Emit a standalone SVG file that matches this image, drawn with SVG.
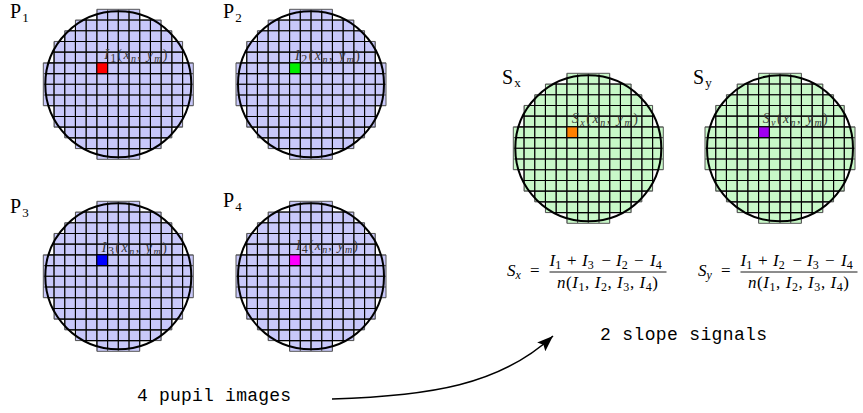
<svg xmlns="http://www.w3.org/2000/svg" xmlns:xlink="http://www.w3.org/1999/xlink" width="863" height="413" viewBox="0 0 863 413">
<style>
.blue{fill:#c8c8fa}
.green{fill:#c8f8c8}
.stair{stroke:#555;stroke-width:1}
.ring{fill:none;stroke:#000;stroke-width:2}
.px{stroke:#000;stroke-width:1}
.plab{font-family:'Liberation Serif','Times New Roman',Times,serif;font-size:20px;fill:#000}
.psub{font-size:13px}
.lbl{font-family:'Liberation Serif','Times New Roman',Times,serif;font-size:14px;fill:#333}
.m{font-family:'Liberation Serif','Times New Roman',Times,serif;font-size:17px;fill:#000}
.i{font-style:italic}
.s{font-size:12px}
.mono{font-family:'Liberation Mono','Courier New',monospace;font-size:18px;fill:#000}
.bar{stroke:#000;stroke-width:0.9}
.conn{fill:none;stroke:#000;stroke-width:1.5}
</style>
<defs>
<clipPath id="stairClip"><path d="M53.57 0H96.43V10.71H117.86V21.43H128.57V32.14H139.29V53.57H150V96.43H139.29V117.86H128.57V128.57H117.86V139.29H96.43V150H53.57V139.29H32.14V128.57H21.43V117.86H10.71V96.43H0V53.57H10.71V32.14H21.43V21.43H32.14V10.71H53.57Z"/></clipPath>
<clipPath id="circClip"><circle cx="75" cy="75" r="73"/></clipPath>
<path id="lines" fill="none" stroke-width="1.1" d="M10.71 0V150M21.43 0V150M32.14 0V150M42.86 0V150M53.57 0V150M64.29 0V150M75 0V150M85.71 0V150M96.43 0V150M107.14 0V150M117.86 0V150M128.57 0V150M139.29 0V150M0 10.71H150M0 21.43H150M0 32.14H150M0 42.86H150M0 53.57H150M0 64.29H150M0 75H150M0 85.71H150M0 96.43H150M0 107.14H150M0 117.86H150M0 128.57H150M0 139.29H150"/>
<g id="grid">
<path class="stair" d="M53.57 0H96.43V10.71H117.86V21.43H128.57V32.14H139.29V53.57H150V96.43H139.29V117.86H128.57V128.57H117.86V139.29H96.43V150H53.57V139.29H32.14V128.57H21.43V117.86H10.71V96.43H0V53.57H10.71V32.14H21.43V21.43H32.14V10.71H53.57Z"/>
<use xlink:href="#lines" href="#lines" clip-path="url(#stairClip)" stroke="#555"/>
<use xlink:href="#lines" href="#lines" clip-path="url(#circClip)" stroke="#000"/>
</g>
<marker id="head" markerUnits="userSpaceOnUse" markerWidth="20" markerHeight="14" refX="16" refY="6" orient="auto">
<path d="M0 0L16 6L0 12L3 6Z" fill="#000"/>
</marker>
</defs>

<g id="p1">
<g transform="translate(43.3,9.3)">
<use xlink:href="#grid" href="#grid" class="blue"/>
<rect class="px" x="53.57" y="53.57" width="10.71" height="10.71" fill="#ff0000"/>
<circle class="ring" cx="75" cy="75" r="73"/>
<text class="lbl" x="61" y="50" textLength="63"><tspan class="i">I</tspan><tspan class="s" font-size="10" dy="3">1</tspan><tspan dy="-3">(</tspan><tspan class="i">x</tspan><tspan class="i" font-size="10" dy="3">n</tspan><tspan dy="-3">, </tspan><tspan class="i">y</tspan><tspan class="i" font-size="10" dy="3">m</tspan><tspan dy="-3">)</tspan></text>
</g>
<text class="plab" x="10" y="17.5">P<tspan class="psub" dx="1" dy="4">1</tspan></text>
</g>

<g id="p2">
<g transform="translate(236,9.3)">
<use xlink:href="#grid" href="#grid" class="blue"/>
<rect class="px" x="53.57" y="53.57" width="10.71" height="10.71" fill="#00ee00"/>
<circle class="ring" cx="75" cy="75" r="73"/>
<text class="lbl" x="59" y="50.5" textLength="65"><tspan class="i">I</tspan><tspan class="s" font-size="10" dy="3">2</tspan><tspan dy="-3">(</tspan><tspan class="i">x</tspan><tspan class="i" font-size="10" dy="3">n</tspan><tspan dy="-3">, </tspan><tspan class="i">y</tspan><tspan class="i" font-size="10" dy="3">m</tspan><tspan dy="-3">)</tspan></text>
</g>
<text class="plab" x="223" y="18">P<tspan class="psub" dx="1" dy="4">2</tspan></text>
</g>

<g id="p3">
<g transform="translate(43.3,201.3)">
<use xlink:href="#grid" href="#grid" class="blue"/>
<rect class="px" x="53.57" y="53.57" width="10.71" height="10.71" fill="#0000ff"/>
<circle class="ring" cx="75" cy="75" r="73"/>
<text class="lbl" x="58.5" y="50.3" textLength="65"><tspan class="i">I</tspan><tspan class="s" font-size="10" dy="3">3</tspan><tspan dy="-3">(</tspan><tspan class="i">x</tspan><tspan class="i" font-size="10" dy="3">n</tspan><tspan dy="-3">, </tspan><tspan class="i">y</tspan><tspan class="i" font-size="10" dy="3">m</tspan><tspan dy="-3">)</tspan></text>
</g>
<text class="plab" x="10" y="212.5">P<tspan class="psub" dx="1" dy="4">3</tspan></text>
</g>

<g id="p4">
<g transform="translate(236,201.3)">
<use xlink:href="#grid" href="#grid" class="blue"/>
<rect class="px" x="53.57" y="53.57" width="10.71" height="10.71" fill="#ff00ff"/>
<circle class="ring" cx="75" cy="75" r="73"/>
<text class="lbl" x="60" y="49" textLength="62"><tspan class="i">I</tspan><tspan class="s" font-size="10" dy="3">4</tspan><tspan dy="-3">(</tspan><tspan class="i">x</tspan><tspan class="i" font-size="10" dy="3">n</tspan><tspan dy="-3">, </tspan><tspan class="i">y</tspan><tspan class="i" font-size="10" dy="3">m</tspan><tspan dy="-3">)</tspan></text>
</g>
<text class="plab" x="223" y="206.5">P<tspan class="psub" dx="1" dy="4">4</tspan></text>
</g>

<g id="sx">
<g transform="translate(513.3,73.3)">
<use xlink:href="#grid" href="#grid" class="green"/>
<rect class="px" x="53.57" y="53.57" width="10.71" height="10.71" fill="#ff8000"/>
<circle class="ring" cx="75" cy="75" r="73"/>
<text class="lbl" x="58.5" y="50" textLength="66"><tspan class="i">S</tspan><tspan class="i" font-size="10" dy="3">x</tspan><tspan dy="-3">(</tspan><tspan class="i">x</tspan><tspan class="i" font-size="10" dy="3">n</tspan><tspan dy="-3">, </tspan><tspan class="i">y</tspan><tspan class="i" font-size="10" dy="3">m</tspan><tspan dy="-3">)</tspan></text>
</g>
<text class="plab" x="502" y="84">S<tspan class="psub" dx="1" dy="3">x</tspan></text>
</g>

<g id="sy">
<g transform="translate(705,73.3)">
<use xlink:href="#grid" href="#grid" class="green"/>
<rect class="px" x="53.57" y="53.57" width="10.71" height="10.71" fill="#a000f0"/>
<circle class="ring" cx="75" cy="75" r="73"/>
<text class="lbl" x="57.7" y="50" textLength="65"><tspan class="i">S</tspan><tspan class="i" font-size="10" dy="3">y</tspan><tspan dy="-3">(</tspan><tspan class="i">x</tspan><tspan class="i" font-size="10" dy="3">n</tspan><tspan dy="-3">, </tspan><tspan class="i">y</tspan><tspan class="i" font-size="10" dy="3">m</tspan><tspan dy="-3">)</tspan></text>
</g>
<text class="plab" x="693" y="84">S<tspan class="psub" dx="1" dy="3">y</tspan></text>
</g>

<g id="formula-sx">
<text class="m" y="276"><tspan x="507" class="i">S</tspan><tspan class="s i" dy="3">x</tspan><tspan x="530" dy="-3">=</tspan></text>
<text class="m" y="266"><tspan x="549.5" class="i">I</tspan><tspan class="s" dy="3">1</tspan><tspan x="567" dy="-3">+</tspan><tspan x="582" class="i">I</tspan><tspan class="s" dy="3">3</tspan><tspan x="601.5" dy="-3">−</tspan><tspan x="616" class="i">I</tspan><tspan class="s" dy="3">2</tspan><tspan x="634" dy="-3">−</tspan><tspan x="650" class="i">I</tspan><tspan class="s" dy="3">4</tspan></text>
<line class="bar" x1="549.5" y1="272" x2="666.5" y2="272"/>
<text class="m" y="288" x="557" textLength="101"><tspan class="i">n</tspan>(<tspan class="i">I</tspan><tspan class="s" dy="3">1</tspan><tspan dy="-3">, </tspan><tspan class="i">I</tspan><tspan class="s" dy="3">2</tspan><tspan dy="-3">, </tspan><tspan class="i">I</tspan><tspan class="s" dy="3">3</tspan><tspan dy="-3">, </tspan><tspan class="i">I</tspan><tspan class="s" dy="3">4</tspan><tspan dy="-3">)</tspan></text>
</g>

<g id="formula-sy">
<text class="m" y="276"><tspan x="698" class="i">S</tspan><tspan class="s i" dy="3">y</tspan><tspan x="721" dy="-3">=</tspan></text>
<text class="m" y="266"><tspan x="740.5" class="i">I</tspan><tspan class="s" dy="3">1</tspan><tspan x="758" dy="-3">+</tspan><tspan x="773" class="i">I</tspan><tspan class="s" dy="3">2</tspan><tspan x="792.5" dy="-3">−</tspan><tspan x="807" class="i">I</tspan><tspan class="s" dy="3">3</tspan><tspan x="825" dy="-3">−</tspan><tspan x="841" class="i">I</tspan><tspan class="s" dy="3">4</tspan></text>
<line class="bar" x1="740.5" y1="272" x2="857.5" y2="272"/>
<text class="m" y="288" x="748" textLength="101"><tspan class="i">n</tspan>(<tspan class="i">I</tspan><tspan class="s" dy="3">1</tspan><tspan dy="-3">, </tspan><tspan class="i">I</tspan><tspan class="s" dy="3">2</tspan><tspan dy="-3">, </tspan><tspan class="i">I</tspan><tspan class="s" dy="3">3</tspan><tspan dy="-3">, </tspan><tspan class="i">I</tspan><tspan class="s" dy="3">4</tspan><tspan dy="-3">)</tspan></text>
</g>

<g id="captions">
<text class="mono" x="137" y="401" textLength="154">4 pupil images</text>
<text class="mono" x="600" y="340" textLength="167">2 slope signals</text>
</g>

<g id="connectors">
<path class="conn" d="M332 399C430 396 500 385 553 336" marker-end="url(#head)"/>
</g>
</svg>
